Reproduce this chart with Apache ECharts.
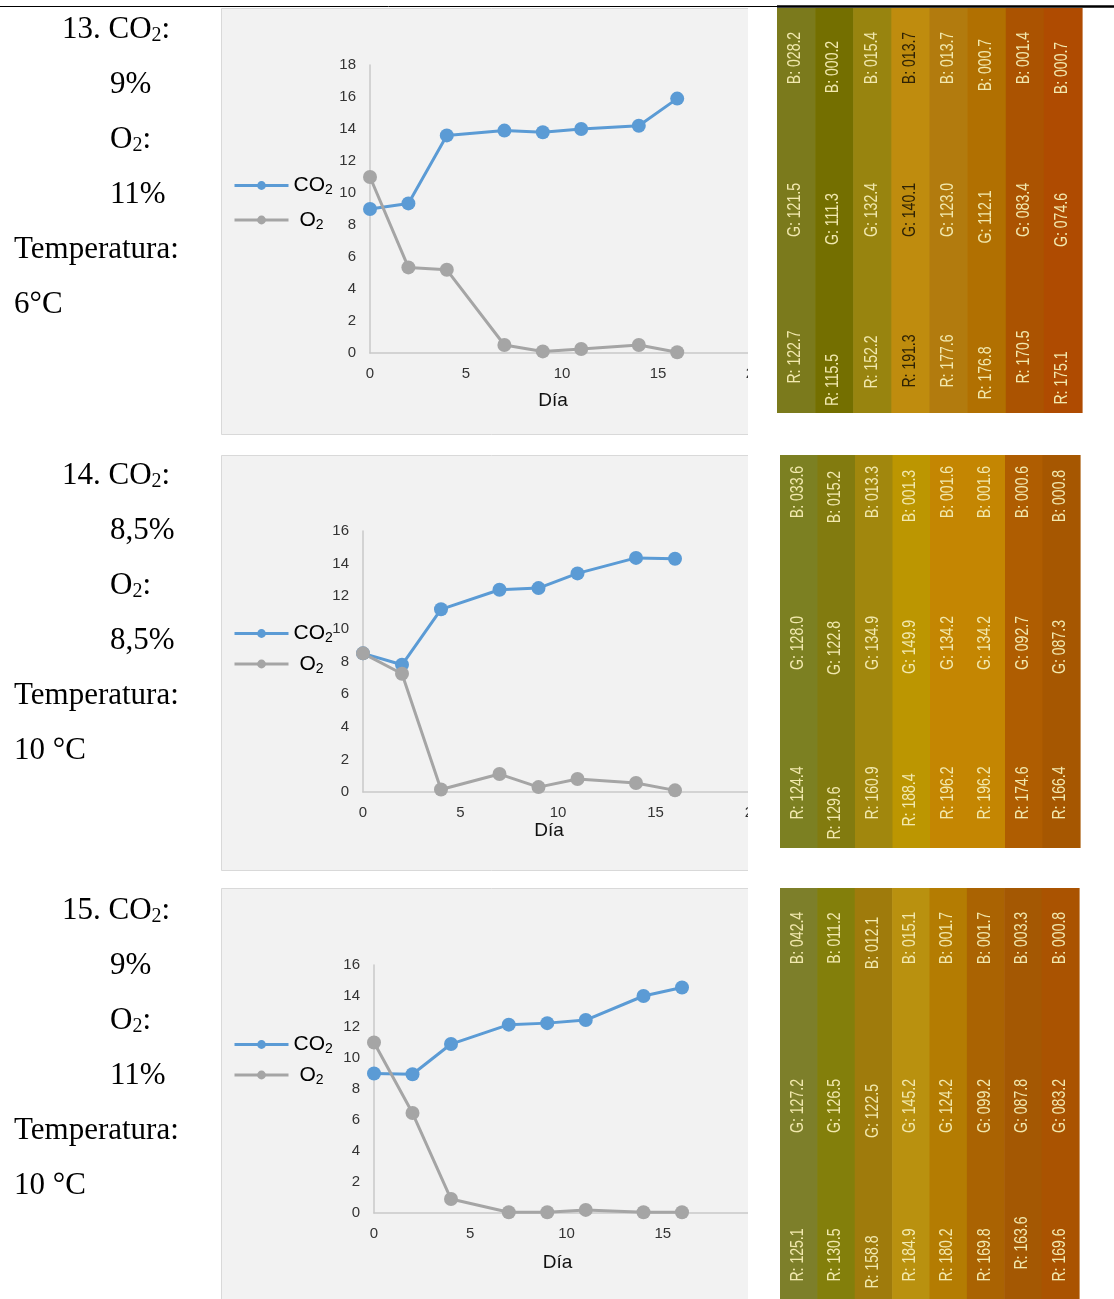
<!DOCTYPE html>
<html>
<head>
<meta charset="utf-8">
<style type="text/css">
    body { margin: 0; background: #fff; }
    #chart { width: 1114px; height: 1299px; }
</style>
</head>
<body>
<div id="chart"></div>
<script src="https://cdn.jsdelivr.net/npm/echarts@6/dist/echarts.min.js"></script>
<script>

// dias de medicion (eje X de las tres graficas)
let dias = [0, 2, 4, 7, 9, 11, 14, 16];

// concentraciones
let co2_13 = [9.0, 9.35, 13.6, 13.9, 13.8, 14.0, 14.2, 15.9];
let o2_13 = [11.0, 5.35, 5.2, 0.5, 0.1, 0.25, 0.5, 0.05];
let co2_14 = [8.5, 7.8, 11.2, 12.4, 12.5, 13.4, 14.35, 14.3];
let o2_14 = [8.5, 7.25, 0.15, 1.1, 0.3, 0.8, 0.55, 0.1];
let co2_15 = [9.0, 8.95, 10.9, 12.15, 12.25, 12.45, 14.0, 14.55];
let o2_15 = [11.0, 6.45, 0.9, 0.05, 0.05, 0.2, 0.05, 0.05];

let yMax = [18, 16, 16];
let xTicks = [0, 20, 5]; // min, max, interval

// columna de la tabla
let ensayos = ['13', '14', '15'];
let co2Ini = ['9%', '8,5%', '9%'];
let o2Ini = ['11%', '8,5%', '11%'];
let temps = ['6°C', '10 °C', '10 °C'];

// valores RGB de las franjas de color
let r13 = [122.7, 115.5, 152.2, 191.3, 177.6, 176.8, 170.5, 175.1];
let g13 = [121.5, 111.3, 132.4, 140.1, 123.0, 112.1, 83.4, 74.6];
let b13 = [28.2, 0.2, 15.4, 13.7, 13.7, 0.7, 1.4, 0.7];
let r14 = [124.4, 129.6, 160.9, 188.4, 196.2, 196.2, 174.6, 166.4];
let g14 = [128.0, 122.8, 134.9, 149.9, 134.2, 134.2, 92.7, 87.3];
let b14 = [33.6, 15.2, 13.3, 1.3, 1.6, 1.6, 0.6, 0.8];
let r15 = [125.1, 130.5, 158.8, 184.9, 180.2, 169.8, 163.6, 169.6];
let g15 = [127.2, 126.5, 122.5, 145.2, 124.2, 99.2, 87.8, 83.2];
let b15 = [42.4, 11.2, 12.1, 15.1, 1.7, 1.7, 3.3, 0.8];

let co2Sets = [co2_13, co2_14, co2_15];
let o2Sets = [o2_13, o2_14, o2_15];
let rgbSets = [[r13, g13, b13], [r14, g14, b14], [r15, g15, b15]];

// layout (pixels)
let panels = [
    {top: 8, bottom: 434, gl: 370, gt: 65, gb: 353, xEnd: 754, lt: 175, lg: 12, ng: 38, text: 30,
        sw: {left: 777, top: 8, width: 305, height: 405}, rows: [349, 202, 50]},
    {top: 455, bottom: 870, gl: 363, gt: 531, gb: 792, xEnd: 753, lt: 623, lg: 8, ng: 28, text: 476,
        sw: {left: 780, top: 455, width: 300, height: 393}, rows: [338, 188, 37]},
    {top: 888, bottom: 1320, gl: 374, gt: 965, gb: 1213, xEnd: 759, lt: 1034, lg: 8, ng: 40, text: 911,
        sw: {left: 780, top: 888, width: 299, height: 411}, rows: [367, 218, 50]}
];
// the photographed strips do not have perfectly aligned labels
let stagR = [[0, 23, 5, 4, 4, 16, 0, 21], [0, 20, 0, 7, 0, 0, 0, 0], [0, 0, 7, 0, 0, 0, -12, 0]];
let stagGB = [[0, 9, 0, 0, 0, 7, 0, 10], [0, 5, 0, 4, 0, 0, 0, 4], [0, 0, 5, 0, 0, 0, 0, 0]];
let darkLabel = [[3], [], []];

const SANS = '"Liberation Sans", Arial, sans-serif';
const SERIF = '"Liberation Serif", "Times New Roman", serif';
const NARROW = '"Liberation Sans Narrow", "Liberation Sans", sans-serif';
const axisColor = '#c9c9c9';

let fmt = v => v.toFixed(1).padStart(5, '0');

let grid = [], xAxis = [], yAxis = [], series = [], legend = [], graphic = [];
let swGrid = [], swX = [], swY = [];

panels.forEach((p, i) => {
    grid.push({left: p.gl, top: p.gt, width: p.xEnd - p.gl, height: p.gb - p.gt});
    xAxis.push({
        type: 'value', gridIndex: i, min: xTicks[0], max: xTicks[1], interval: xTicks[2],
        axisLine: {show: true, onZero: false, lineStyle: {color: axisColor, width: 1.5}},
        axisTick: {show: false}, splitLine: {show: false},
        axisLabel: {fontSize: 15, color: '#333', margin: 13, fontFamily: SANS},
        name: 'Día', nameLocation: 'middle', nameGap: p.ng,
        nameTextStyle: {fontSize: 19, color: '#111', fontFamily: SANS, padding: [0, 18, 0, 0]}
    });
    yAxis.push({
        type: 'value', gridIndex: i, min: 0, max: yMax[i], interval: 2,
        axisLine: {show: true, lineStyle: {color: axisColor, width: 1.5}},
        axisTick: {show: false}, splitLine: {show: false},
        axisLabel: {fontSize: 15, color: '#333', margin: 14, fontFamily: SANS}
    });
    series.push({
        name: 'CO2', type: 'line', xAxisIndex: i, yAxisIndex: i,
        data: dias.map((d, k) => [d, co2Sets[i][k]]),
        symbol: 'circle', symbolSize: 14,
        lineStyle: {width: 3, color: '#5b9bd5'}, itemStyle: {color: '#5b9bd5'}
    });
    series.push({
        name: 'O2', type: 'line', xAxisIndex: i, yAxisIndex: i,
        data: dias.map((d, k) => [d, o2Sets[i][k]]),
        symbol: 'circle', symbolSize: 14,
        lineStyle: {width: 3, color: '#a5a5a5'}, itemStyle: {color: '#a5a5a5'}
    });
    legend.push({
        orient: 'vertical', left: 233, top: p.lt, itemGap: p.lg, padding: 0,
        itemWidth: 54, itemHeight: 11, selectedMode: false,
        lineStyle: {width: 3},
        data: ['CO2', 'O2'],
        formatter: n => n === 'CO2' ? '{b|CO}{s|2}' : '{bo|O}{s|2}',
        textStyle: {
            rich: {
                b: {fontSize: 21, fontFamily: SANS, color: '#000'},
                bo: {fontSize: 21, fontFamily: SANS, color: '#000', padding: [0, 0, 0, 6]},
                s: {fontSize: 14, fontFamily: SANS, color: '#000', padding: [10, 0, 0, 0]}
            }
        }
    });

    // swatch strips (grids 3..5)
    let sg = 3 + i;
    swGrid.push({left: p.sw.left, top: p.sw.top, width: p.sw.width, height: p.sw.height});
    swX.push({type: 'category', gridIndex: sg, data: rgbSets[i][0].map((v, k) => String(k + 1)), show: false});
    swY.push({type: 'value', gridIndex: sg, min: 0, max: 255, show: false});
    let [rr, gg, bb] = rgbSets[i];
    series.push({
        type: 'custom', xAxisIndex: sg, yAxisIndex: sg,
        data: rr.map((v, k) => [k, v, gg[k], bb[k]]),
        encode: {x: 0, y: 1},
        renderItem: (params, api) => {
            let k = api.value(0);
            let cs = params.coordSys;
            let w = api.size([1, 0])[0];
            let cx = api.coord([k, 0])[0];
            let r = api.value(1), g = api.value(2), b = api.value(3);
            let fill = darkLabel[i].indexOf(k) >= 0 ? '#2e2205' : '#f2e9ae';
            let txt = (s, y) => ({
                type: 'text', x: cx - 1, y: cs.y + y, rotation: Math.PI / 2, scaleX: 0.74,
                style: {text: s, fill, fontSize: 19, fontFamily: NARROW, align: 'center', verticalAlign: 'middle'}
            });
            return {
                type: 'group', children: [
                    {type: 'rect', shape: {x: cx - w / 2, y: cs.y, width: w + 0.6, height: cs.height},
                        style: {fill: `rgb(${r},${g},${b})`}},
                    txt('R: ' + fmt(r), p.rows[0] + stagR[i][k]),
                    txt('G: ' + fmt(g), p.rows[1] + stagGB[i][k]),
                    txt('B: ' + fmt(b), p.rows[2] + stagGB[i][k])
                ]
            };
        }
    });

    // chart background panel
    graphic.push({
        type: 'rect', z: -10,
        shape: {x: 221.5, y: p.top + 0.5, width: 540, height: p.bottom - p.top},
        style: {fill: '#f2f2f2', stroke: '#d9d9d9', lineWidth: 1}
    });

    // left column text
    let rows = [
        [62, ensayos[i] + '. CO{s|2}:'],
        [110, co2Ini[i]],
        [110, 'O{s|2}:'],
        [110, o2Ini[i]],
        [14, 'Temperatura:'],
        [14, temps[i]]
    ];
    rows.forEach((row, k) => {
        graphic.push({
            type: 'text', z: 10, x: row[0], y: p.text + k * 55,
            style: {
                text: row[1], fill: '#000', fontSize: 31, fontFamily: SERIF, verticalAlign: 'middle',
                rich: {s: {fontSize: 20, fontFamily: SERIF, fill: '#000', padding: [12, 0, 0, 0]}}
            }
        });
    });
});

grid = grid.concat(swGrid);
xAxis = xAxis.concat(swX);
yAxis = yAxis.concat(swY);

// clip the charts at the table cell edge, and the top rule
graphic.push({type: 'rect', z: 100, shape: {x: 748, y: 0, width: 29, height: 1299}, style: {fill: '#fff'}});
graphic.push({type: 'line', z: 101, shape: {x1: 0, y1: 6.5, x2: 777, y2: 6.5}, style: {stroke: '#000', lineWidth: 1}});
graphic.push({type: 'line', z: 101, shape: {x1: 777, y1: 6.5, x2: 1114, y2: 6.5}, style: {stroke: '#000', lineWidth: 2.5}});

let chart = echarts.init(document.getElementById('chart'));
chart.setOption({
    animation: false,
    backgroundColor: '#fff',
    grid, xAxis, yAxis, series, legend,
    graphic: {elements: graphic}
});

</script>
</body>
</html>
